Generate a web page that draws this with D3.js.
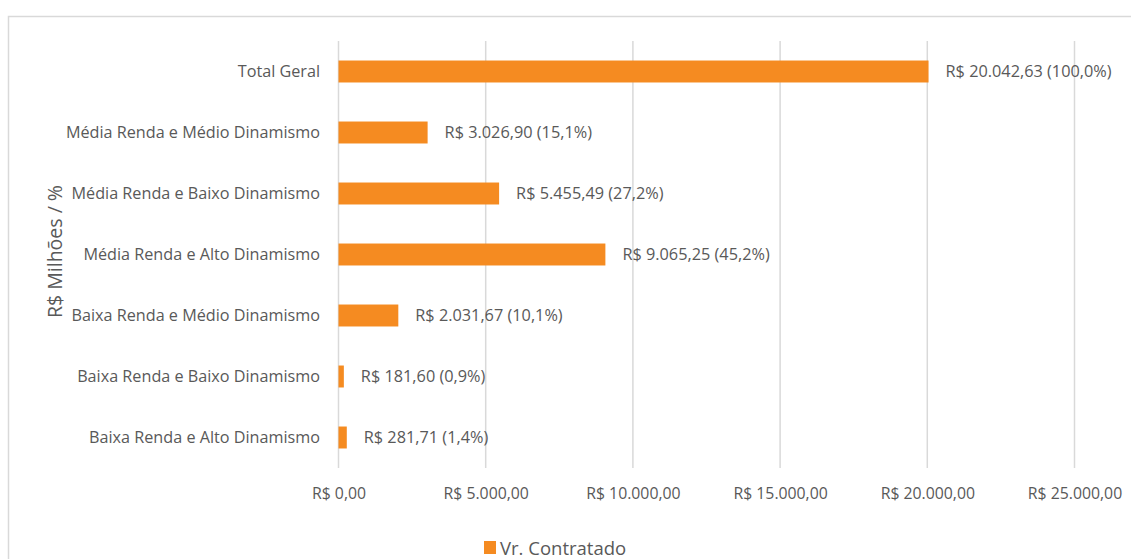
<!DOCTYPE html>
<html><head><meta charset="utf-8">
<script src="https://cdn.jsdelivr.net/npm/d3@7"></script>
<style>body{margin:0;background:#fff}svg{display:block}text{font-family:"Open Sans",sans-serif;fill:#595959}</style>
</head><body><svg id="c" width="1131" height="559"></svg>
<script>
const categories = ["Total Geral","Média Renda e Médio Dinamismo","Média Renda e Baixo Dinamismo","Média Renda e Alto Dinamismo","Baixa Renda e Médio Dinamismo","Baixa Renda e Baixo Dinamismo","Baixa Renda e Alto Dinamismo"];
const values = [20042.63, 3026.90, 5455.49, 9065.25, 2031.67, 181.60, 281.71];
const percents = [100.0, 15.1, 27.2, 45.2, 10.1, 0.9, 1.4];
const ticks = [0, 5000, 10000, 15000, 20000, 25000];
const seriesName = "Vr. Contratado";
const axisTitle = "R$ Milhões / %";
const color = "#F58B21";

const FONT = "'Open Sans',sans-serif";
const svg = d3.select("#c");
const ptBR = d3.formatLocale({decimal:",", thousands:".", grouping:[3], currency:["R$ ",""]});
const money = ptBR.format(",.2f");
const pct = ptBR.format(".1f");

svg.append("rect").attr("x",8.5).attr("y",16.5).attr("width",1140).attr("height",570)
  .attr("fill","none").attr("stroke","#d9d9d9").attr("stroke-width",1.5);

const x = d3.scaleLinear().domain([0,25000]).range([338.5,1074.5]);
const y = d3.scaleBand().domain(categories).range([41,468]).paddingInner(0.64).paddingOuter(0.32);

// gridlines
svg.append("g").selectAll("line").data(ticks).join("line")
  .attr("x1",d=>x(d)).attr("x2",d=>x(d)).attr("y1",41).attr("y2",468)
  .attr("stroke","#d9d9d9").attr("stroke-width",1.5);

// x axis labels
const xa = svg.append("g").attr("transform","translate(0,468)")
  .call(d3.axisBottom(x).tickValues(ticks).tickSize(0).tickFormat(d=>"R$ "+money(d)));
xa.select(".domain").remove();
xa.selectAll("text").attr("y",31).attr("dy",0).style("font-size","15.8px").attr("fill","#595959").style("font-family",FONT);

// y axis labels
const ya = svg.append("g").attr("transform","translate(338,0)")
  .call(d3.axisLeft(y).tickSize(0).tickPadding(18));
ya.select(".domain").remove();
ya.selectAll("text").style("font-size","16.2px").attr("fill","#595959").style("font-family",FONT);

// bars
svg.append("g").selectAll("rect").data(categories).join("rect")
  .attr("x",x(0)).attr("y",d=>y(d)).attr("height",y.bandwidth())
  .attr("width",(d,i)=>x(values[i])-x(0)).attr("fill",color);

// labels
svg.append("g").selectAll("text").data(categories).join("text")
  .attr("x",(d,i)=>x(values[i])+17).attr("y",d=>y(d)+y.bandwidth()/2)
  .attr("dy","0.35em").style("font-size","16.3px")
  .text((d,i)=>"R$ "+money(values[i])+" ("+pct(percents[i])+"%)");

// axis title
svg.append("text").attr("transform","translate(62,251.5) rotate(-90)")
  .attr("text-anchor","middle").style("font-size","19.5px").text(axisTitle);

// legend
svg.append("rect").attr("x",484).attr("y",541).attr("width",12).attr("height",13).attr("fill",color);
svg.append("text").attr("x",500).attr("y",554.5).style("font-size","18.5px").text(seriesName);
</script></body></html>
